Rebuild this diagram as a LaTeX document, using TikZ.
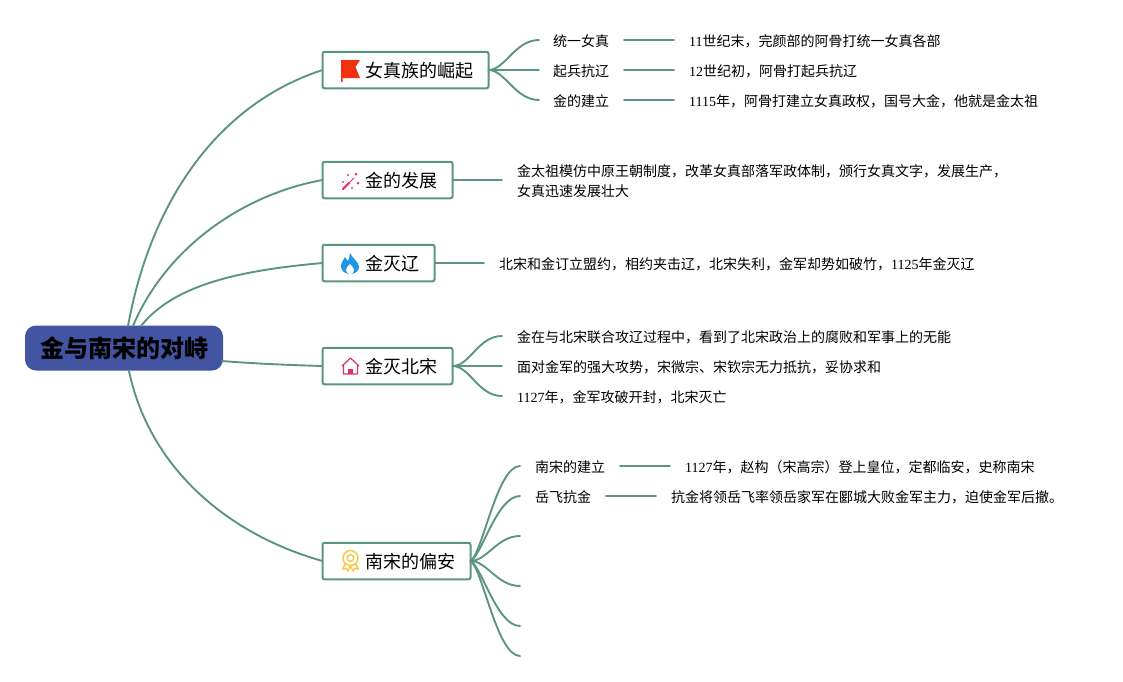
\documentclass[tikz,border=0pt]{standalone}
\usepackage{fontspec}
\setmainfont{Noto Sans CJK SC}
\newfontfamily\latf{Liberation Serif}
\newcommand{\lat}[1]{{\latf #1}}
\definecolor{lnk}{HTML}{5B9581}
\definecolor{rootc}{HTML}{4355A2}
\definecolor{flagc}{HTML}{F22F0F}
\definecolor{wandc}{HTML}{E63A72}
\definecolor{firec}{HTML}{2196E3}
\definecolor{housec}{HTML}{D6336C}
\definecolor{medalc}{HTML}{F9C846}
\tikzset{
 x=1pt,y=-1pt,
 link/.style={draw=lnk,line width=1.9pt,line cap=round},
 topic/.style={draw=lnk,line width=2pt,fill=white,rounded corners=2pt,minimum height=36.5pt,inner sep=0pt,outer sep=0pt,anchor=west},
 topictext/.style={font=\fontsize{18}{20}\selectfont,anchor=base west,inner sep=0pt},
 subtext/.style={font=\fontsize{14}{20}\selectfont,anchor=base west,inner sep=0pt,align=left},
}
\begin{document}
\begin{tikzpicture}
\useasboundingbox (0,0) rectangle (1123,681);
\node[fill=rootc,rounded corners=11pt,minimum width=198pt,minimum height=45pt,inner sep=0pt,font=\fontsize{24}{26}\selectfont\bfseries] (root) at (124,348) {\raisebox{-2pt}{金与南宋的对峙}};
\node[topic,minimum width=166pt] (t1) at (322.5,70) {};
\node[topic,minimum width=130pt] (t2) at (322.5,180) {};
\node[topic,minimum width=112pt] (t3) at (322.5,263) {};
\node[topic,minimum width=130pt] (t4) at (322.5,366) {};
\node[topic,minimum width=148pt] (t5) at (322.5,561) {};
\node[topictext] (t1l) at (365,77) {女真族的崛起};
\node[topictext] (t2l) at (365,187) {金的发展};
\node[topictext] (t3l) at (365,270) {金灭辽};
\node[topictext] (t4l) at (365,373) {金灭北宋};
\node[topictext] (t5l) at (365,568) {南宋的偏安};
% root links
\coordinate (ra) at (128,326);
\coordinate (rb) at (133,326);
\coordinate (rc) at (141,326);
\coordinate (rd) at (129,371);
\coordinate (re) at (222,361);
\draw[link] (ra) .. controls (150,205) and (215,105) .. (t1.west);
\draw[link] (rb) .. controls (165,250) and (240,195) .. (t2.west);
\draw[link] (rc) .. controls (175,283) and (245,270) .. (t3.west);
\draw[link] (re) .. controls (260,364) and (290,365) .. (t4.west);
\draw[link] (rd) .. controls (150,470) and (230,535) .. (t5.west);
% icons
\fill[flagc] (341,60) -- (360,60) -- (355.5,67) -- (360,78) -- (342.5,78) -- (342.5,82) -- (341,82) -- cycle;
\begin{scope}[shift={(351,181)}]
 \draw[draw=wandc,line width=2.2pt,line cap=round] (-8,8) -- (-2,2);
 \draw[draw=wandc,line width=1pt,line cap=round] (-2,2) -- (3,-3);
 \fill[wandc] (5,-7) circle (1.5) (7,2) circle (1.5) (-3,-6) circle (1.2) (-8,1) circle (1.2) (1,7) circle (1.1);
\end{scope}
\fill[firec] (350,253) .. controls (353,259) and (359,262) .. (359,267) .. controls (359,271) and (355,274) .. (350,274) .. controls (345,274) and (341,271) .. (341,266) .. controls (341,262) and (344,260) .. (345,257) .. controls (346,259) and (347,260) .. (348,261) .. controls (349,258) and (350,256) .. (350,253) -- cycle;
\fill[white] (350,264) .. controls (353,267) and (354,269) .. (354,270) .. controls (354,273) and (352,274) .. (350,274) .. controls (348,274) and (346,273) .. (346,270) .. controls (346,268) and (348,266) .. (350,264) -- cycle;
\draw[draw=housec,line width=1.2pt,line join=round] (342,366) -- (350.5,358) -- (359,366) (343.5,365) -- (343.5,374) -- (357.5,374) -- (357.5,365);
\fill[housec] (348,374) -- (348,369) -- (353,369) -- (353,374) -- cycle;
\begin{scope}[shift={(350.5,558)},draw=medalc]
 \draw[line width=1.5pt] (0,0) circle (7.5);
 \draw[line width=1.5pt] (0,0) circle (3.3);
 \draw[line width=1.5pt,line join=round] (-5,6) -- (-8,11) -- (-4.5,10.5) -- (-2.5,13) -- (0,8) -- (2.5,13) -- (4.5,10.5) -- (8,11) -- (5,6);
\end{scope}
% branch 1
\coordinate (b11) at (539,40); \coordinate (b12) at (539,70); \coordinate (b13) at (539,100);
\draw[link] (t1.east) .. controls (505,70) and (515,40) .. (b11);
\draw[link] (t1.east) -- (b12);
\draw[link] (t1.east) .. controls (505,70) and (515,100) .. (b13);
\node[subtext] (s11) at (553,46) {统一女真};
\node[subtext] (s12) at (553,76) {起兵抗辽};
\node[subtext] (s13) at (553,106) {金的建立};
\node[subtext] (d11) at (689,46) {\lat{11}世纪末，完颜部的阿骨打统一女真各部};
\node[subtext] (d12) at (689,76) {\lat{12}世纪初，阿骨打起兵抗辽};
\node[subtext] (d13) at (689,106) {\lat{1115}年，阿骨打建立女真政权，国号大金，他就是金太祖};
\coordinate (e11) at (624,40); \coordinate (f11) at (674,40);
\coordinate (e12) at (624,70); \coordinate (f12) at (674,70);
\coordinate (e13) at (624,100); \coordinate (f13) at (674,100);
\draw[link] (e11) -- (f11); \draw[link] (e12) -- (f12); \draw[link] (e13) -- (f13);
% branch 2
\coordinate (b21) at (502,180);
\draw[link] (t2.east) -- (b21);
\node[subtext] (s21a) at (517,176) {金太祖模仿中原王朝制度，改革女真部落军政体制，颁行女真文字，发展生产，};
\node[subtext] (s21b) at (517,196) {女真迅速发展壮大};
% branch 3
\coordinate (b31) at (484,263);
\draw[link] (t3.east) -- (b31);
\node[subtext] (s31) at (499,269) {北宋和金订立盟约，相约夹击辽，北宋失利，金军却势如破竹，\lat{1125}年金灭辽};
% branch 4
\coordinate (b41) at (502,336); \coordinate (b42) at (502,366); \coordinate (b43) at (502,396);
\draw[link] (t4.east) .. controls (470,366) and (478,336) .. (b41);
\draw[link] (t4.east) -- (b42);
\draw[link] (t4.east) .. controls (470,366) and (478,396) .. (b43);
\node[subtext] (s41) at (517,342) {金在与北宋联合攻辽过程中，看到了北宋政治上的腐败和军事上的无能};
\node[subtext] (s42) at (517,372) {面对金军的强大攻势，宋微宗、宋钦宗无力抵抗，妥协求和};
\node[subtext] (s43) at (517,402) {\lat{1127}年，金军攻破开封，北宋灭亡};
% branch 5
\coordinate (b51) at (520,466); \coordinate (b52) at (520,496); \coordinate (b53) at (520,536);
\coordinate (b54) at (520,586); \coordinate (b55) at (520,626); \coordinate (b56) at (520,656);
\draw[link] (t5.east) .. controls (482,555) and (497,466) .. (b51);
\draw[link] (t5.east) .. controls (482,555) and (497,496) .. (b52);
\draw[link] (t5.east) .. controls (487,561) and (497,536) .. (b53);
\draw[link] (t5.east) .. controls (487,561) and (497,586) .. (b54);
\draw[link] (t5.east) .. controls (482,567) and (497,626) .. (b55);
\draw[link] (t5.east) .. controls (482,567) and (497,656) .. (b56);
\node[subtext] (s51) at (535,472) {南宋的建立};
\node[subtext] (s52) at (535,502) {岳飞抗金};
\coordinate (e51) at (620,466); \coordinate (f51) at (670,466);
\coordinate (e52) at (606,496); \coordinate (f52) at (656,496);
\draw[link] (e51) -- (f51); \draw[link] (e52) -- (f52);
\node[subtext] (d51) at (685,472) {\lat{1127}年，赵构（宋高宗）登上皇位，定都临安，史称南宋};
\node[subtext] (d52) at (671,502) {抗金将领岳飞率领岳家军在郾城大败金军主力，迫使金军后撤。};
\end{tikzpicture}
\end{document}
